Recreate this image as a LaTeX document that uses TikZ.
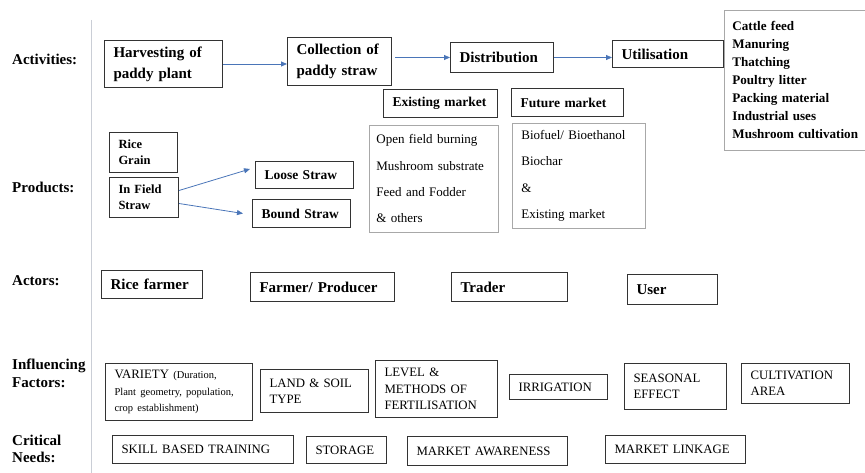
\documentclass[tikz,border=0pt]{standalone}
\usepackage{fontspec}
\setmainfont{Liberation Serif}
\usetikzlibrary{arrows.meta}
\definecolor{flowblue}{HTML}{4A75B8}
\definecolor{edgegray}{HTML}{A8A8A8}
\definecolor{axisgray}{HTML}{CACED6}
\newcommand\headfont{\fontsize{15}{21}\selectfont\bfseries}
\newcommand\marketfont{\fontsize{13.5}{18}\selectfont\bfseries}
\newcommand\usesfont{\fontsize{13.1}{18}\selectfont\bfseries}
\newcommand\listfont{\fontsize{13}{26.3}\selectfont}
\newcommand\prodfont{\fontsize{12.5}{16}\selectfont\bfseries}
\newcommand\factfont{\fontsize{12.8}{16.5}\selectfont}

\begin{document}
\begin{tikzpicture}[x=1pt,y=-1pt,
  lbl/.style={anchor=west,inner sep=0pt,align=left,font=\fontsize{15}{17.5}\selectfont\bfseries},
  bx/.style={draw=black!80,line width=1pt,anchor=north west,inner xsep=9pt,
    inner ysep=1pt,align=left,font=\headfont},
  gbx/.style={bx,draw=edgegray,line width=0.8pt},
  flow/.style={-{Triangle[length=6pt,width=5pt]},flowblue,line width=0.8pt}]
\useasboundingbox (0,0) rectangle (865,473);
% row labels and the rule beside them
\draw[axisgray,line width=0.8pt] (91,20) -- (91,473);
\node[lbl] (lact) at (12,59) {Activities:};
\node[lbl] (lprod) at (12,187) {Products:};
\node[lbl] (lactor) at (12,281) {Actors:};
\node[lbl] (linfl) at (12,373.5) {Influencing\\Factors:};
\node[lbl] (lneed) at (12,449) {Critical\\Needs:};
% activities chain
\node[bx,text width=100pt,minimum height=47pt] (harvest) at (104,40) {Harvesting of\\paddy plant};
\node[bx,text width=86pt,minimum height=48pt] (collect) at (287,37) {Collection of\\paddy straw};
\node[bx,text width=85pt,minimum height=30pt] (distrib) at (450,42) {Distribution};
\node[bx,text width=93pt,minimum height=27pt] (utilis) at (612,40) {Utilisation};
\node[gbx,font=\usesfont,text width=134pt,inner xsep=8pt,minimum height=140pt] (uses) at (724,10)
  {Cattle feed\\Manuring\\Thatching\\Poultry litter\\Packing material\\Industrial uses\\Mushroom cultivation};
\draw[flow] (harvest.east) -- (harvest.east -| collect.west);
\draw[flow,shorten <=3pt] (collect.east |- distrib.west) -- (distrib.west);
\draw[flow] (distrib.east) -- (distrib.east -| utilis.west);
% markets
\node[bx,font=\marketfont,text width=96pt,minimum height=28pt] (existmk) at (383,89) {Existing market};
\node[bx,font=\marketfont,text width=94pt,minimum height=28pt] (futmk) at (511,88) {Future market};
\node[gbx,font=\listfont,inner xsep=7pt,text width=115pt,minimum height=107pt] (oldlist) at (369,125)
  {Open field burning\\Mushroom substrate\\Feed and Fodder\\\& others};
\node[gbx,font=\listfont,text width=115pt,minimum height=105pt] (newlist) at (512,123)
  {Biofuel/ Bioethanol\\Biochar\\\&\\Existing market};
% products
\node[bx,font=\prodfont,text width=50pt,minimum height=40pt] (grain) at (109,132) {Rice\\Grain};
\node[bx,font=\prodfont,text width=51pt,minimum height=40pt] (field) at (109,177) {In Field\\Straw};
\node[bx,font=\marketfont,text width=80pt,minimum height=27pt] (loose) at (255,161) {Loose Straw};
\node[bx,font=\marketfont,text width=80pt,minimum height=28pt] (bound) at (252,199) {Bound Straw};
\draw[flow] ([yshift=7pt]field.east) -- ([xshift=-5pt,yshift=6pt]loose.west);
\draw[flow] ([yshift=-6pt]field.east) -- ([xshift=-9pt]bound.west);
% actors
\node[bx,text width=83pt,minimum height=28pt] (farmer) at (101,270) {Rice farmer};
\node[bx,text width=126pt,minimum height=29pt] (producer) at (250,272) {Farmer/ Producer};
\node[bx,text width=98pt,minimum height=29pt] (trader) at (451,272) {Trader};
\node[bx,text width=72pt,minimum height=30pt] (user) at (627,274) {User};
% influencing factors
\node[bx,font=\factfont,text width=129pt,minimum height=57pt] (variety) at (105,363)
  {VARIETY {\fontsize{10.5}{15}\selectfont(Duration,}\\
   {\fontsize{10.5}{15}\selectfont Plant geometry, population,}\\
   {\fontsize{10.5}{15}\selectfont crop establishment)}};
\node[bx,font=\factfont,text width=90pt,minimum height=43pt] (land) at (260,369) {LAND \& SOIL\\TYPE};
\node[bx,font=\factfont,text width=104pt,minimum height=57pt] (fert) at (375,360) {LEVEL \&\\METHODS OF\\FERTILISATION};
\node[bx,font=\factfont,text width=80pt,minimum height=25pt] (irrig) at (509,374) {IRRIGATION};
\node[bx,font=\factfont,text width=84pt,minimum height=46pt] (season) at (624,363) {SEASONAL\\EFFECT};
\node[bx,font=\factfont,text width=90pt,minimum height=40pt] (cultiv) at (741,363) {CULTIVATION\\AREA};
% critical needs
\node[bx,font=\factfont,text width=163pt,minimum height=28pt] (skill) at (112,435) {SKILL BASED TRAINING};
\node[bx,font=\factfont,text width=62pt,minimum height=27pt] (storage) at (306,436) {STORAGE};
\node[bx,font=\factfont,text width=142pt,minimum height=29pt] (aware) at (407,436) {MARKET AWARENESS};
\node[bx,font=\factfont,text width=122pt,minimum height=28pt] (linkage) at (605,435) {MARKET LINKAGE};
\end{tikzpicture}
\end{document}
